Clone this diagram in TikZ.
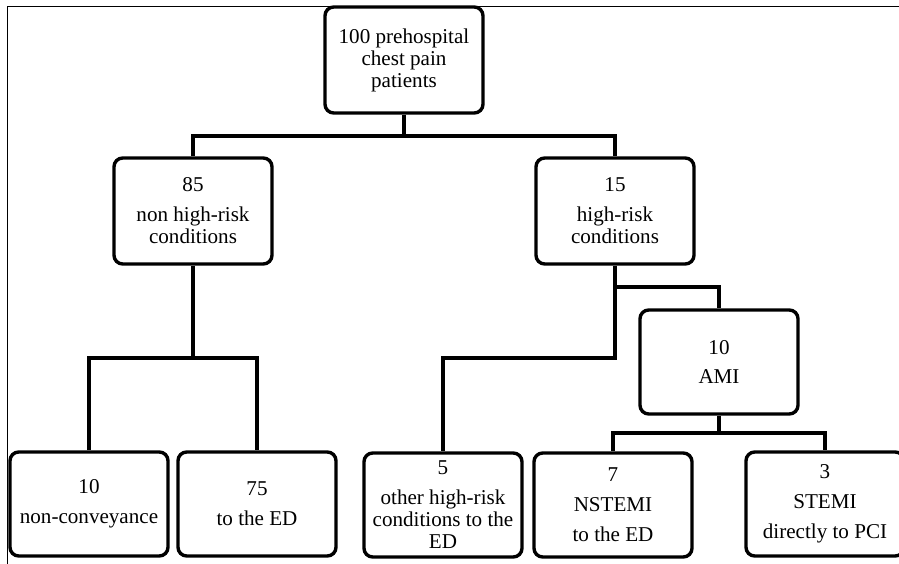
\documentclass[tikz,border=0pt]{standalone}
\usepackage{fontspec}
\setmainfont{Liberation Serif}
\usetikzlibrary{positioning}
\tikzset{box/.style={draw, fill=white, rounded corners=0.22cm, align=center, inner sep=1pt,
    minimum width=3.95cm, minimum height=2.6cm,
    font=\fontsize{15}{15.6}\selectfont},
  frame/.style={line width=0.7pt}}
\begin{document}
\begin{tikzpicture}[x=0.025cm, y=-0.025cm, line width=2.4pt]
   \clip (0,0) rectangle (899,564);
   \draw[frame] (7,570) -- (7,6) -- (905,6);
   % boxes
   \node[box, minimum height=2.65cm] (all) at (404,60) {100 prehospital\\chest pain\\patients};
   \node[box, minimum height=2.65cm] (low) at (193,211) {85\\[5.7pt]non high-risk\\conditions};
   \node[box, minimum height=2.65cm] (high) at (615,211) {15\\[5.7pt]high-risk\\conditions};
   \node[box] (nocon) at (89,504) {10\\[5.7pt]non-conveyance};
   \node[box] (lowed) at (257,504) {75\\[5.7pt]to the ED};
   \node[box] (other) at (443,505) {5\\[5.7pt]other high-risk\\conditions to the\\ED};
   \node[box] (ami) at (719,362) {10\\[5.7pt]AMI};
   \node[box] (nstemi) at (613,505) {7\\[5.7pt]NSTEMI\\[5.7pt]to the ED};
   \node[box] (stemi) at (825,504) {3\\[5.7pt]STEMI\\[5.7pt]directly to PCI};
   % branches
   \coordinate (b1) at (404,136);
   \coordinate (b2) at (193,358);
   \coordinate (b3) at (615,287);
   \coordinate (b4) at (615,358);
   \coordinate (b5) at (719,433);
   \draw (all) -- (b1);
   \draw (low.north) |- (b1) -| (high.north);
   \draw (low) -- (b2);
   \draw (nocon.north) |- (b2) -| (lowed.north);
   \draw (high) -- (b3) -| (ami.north);
   \draw (b3) -- (b4) -| (other.north);
   \draw (ami) -- (b5);
   \draw (nstemi.north) |- (b5) -| (stemi.north);
\end{tikzpicture}
\end{document}
